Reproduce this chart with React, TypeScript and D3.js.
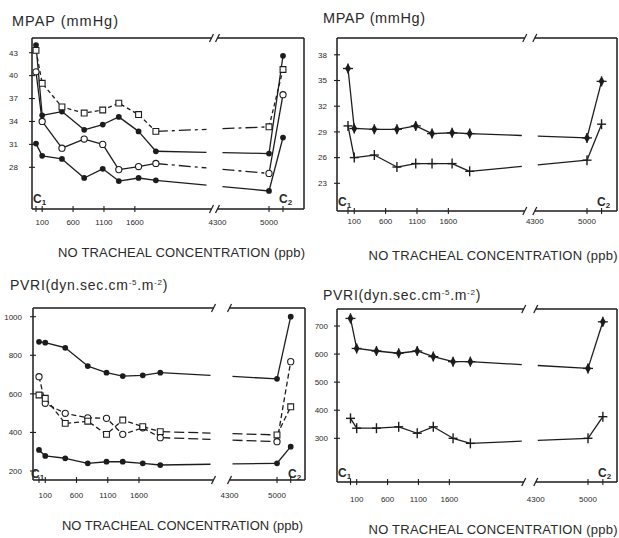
import React from 'react';
import * as d3 from 'd3';

// Concentration position (ppb) of each measurement; C1 / C2 control periods sit at 0 and 5200 on the axis
const doseX = [0, 100, 420, 780, 1080, 1340, 1660, 1940, 5000, 5200];
const xTickMarks = [0, 100, 600, 1100, 1600, 5000, 5200];
const xTickLabels = ['100', '600', '1100', '1600', '5000'];
const xTickLabelValues = [100, 600, 1100, 1600, 5000];
const breakLabel = '4300';

// Y ticks
const mpapTicksLeft = [28, 31, 34, 37, 40, 43];
const mpapTicksRight = [23, 26, 29, 32, 35, 38];
const pvriTicksLeft = [200, 400, 600, 800, 1000];
const pvriTicksRight = [300, 400, 500, 600, 700];

// Top-left: MPAP (mmHg)
const mpapFilledHigh = [44.0, 34.8, 35.3, 32.9, 33.6, 34.6, 32.7, 30.1, 29.8, 42.6];
const mpapSquares = [43.3, 39.0, 35.9, 35.1, 35.5, 36.4, 34.9, 32.7, 33.3, 40.8];
const mpapCircles = [40.5, 34.0, 30.5, 31.7, 31.0, 27.7, 28.1, 28.5, 27.2, 37.5];
const mpapFilledLow = [31.1, 29.5, 29.1, 26.6, 27.8, 26.2, 26.6, 26.3, 24.9, 31.9];

// Top-right: MPAP (mmHg)
const mpap2High = [36.4, 29.4, 29.3, 29.3, 29.7, 28.8, 28.9, 28.8, 28.3, 34.9];
const mpap2Low = [29.7, 26.0, 26.3, 24.9, 25.3, 25.3, 25.3, 24.4, 25.7, 29.9];

// Bottom-left: PVRI
const pvriFilledHigh = [870, 865, 839, 744, 710, 692, 696, 710, 678, 1000];
const pvriCircles = [689, 551, 499, 476, 473, 390, 424, 373, 352, 767];
const pvriSquares = [594, 577, 447, 458, 390, 464, 430, 404, 387, 533];
const pvriFilledLow = [309, 278, 266, 240, 248, 248, 240, 231, 240, 326];

// Bottom-right: PVRI
const pvri2High = [727, 620, 611, 603, 611, 591, 573, 573, 549, 715];
const pvri2Low = [371, 336, 336, 341, 318, 341, 300, 282, 300, 377];

const INK = '#1e1e1e';
const TEXT = '#2a2a2a';
const FONT = '"Liberation Sans", Arial, Helvetica, sans-serif';

type Series = { values: number[]; marker: string; dash?: string; tailDash?: string };

const panels = [
  {
    key: 'p1', kind: 'mpap', titleX: 12, titleY: 26, titleLen: 106,
    left: 32, right: 304, top: 38, bottom: 209,
    xr: [36, 209, 220, 269], yd: [28, 43], yr: [167.3, 52.7], yTicks: mpapTicksLeft,
    yLabelX: 18, xLabelY: 225, xTitleX: 181.5, xTitleY: 257, xTitleLen: 247,
    gap: 8, bh: 3, c1x: 33, c2x: 279, cY: 203,
    series: [
      { values: mpapFilledHigh, marker: 'dot' },
      { values: mpapSquares, marker: 'square', dash: '4,3', tailDash: '12,4,3,4' },
      { values: mpapCircles, marker: 'circle', tailDash: '12,4,3,4' },
      { values: mpapFilledLow, marker: 'dot' },
    ] as Series[],
  },
  {
    key: 'p2', kind: 'mpap', titleX: 323, titleY: 23, titleLen: 102,
    left: 337, right: 617, top: 38, bottom: 211,
    xr: [348, 523.6, 536, 587], yd: [23, 38], yr: [183.3, 54.8], yTicks: mpapTicksRight,
    yLabelX: 327, xLabelY: 224, xTitleX: 493, xTitleY: 260, xTitleLen: 249,
    gap: 8, bh: 5, c1x: 338, c2x: 597, cY: 206,
    series: [
      { values: mpap2High, marker: 'star' },
      { values: mpap2Low, marker: 'plus' },
    ] as Series[],
  },
  {
    key: 'p3', kind: 'pvri', titleX: 10, titleY: 290, titleLen: 158,
    left: 33, right: 305, top: 308, bottom: 480,
    xr: [39, 214, 229, 277], yd: [200, 1000], yr: [471, 316.7], yTicks: pvriTicksLeft,
    yLabelX: 22, xLabelY: 498, xTitleX: 182.5, xTitleY: 530, xTitleLen: 241,
    gap: 11, bh: 8, c1x: 31, c2x: 288, cY: 478,
    series: [
      { values: pvriFilledHigh, marker: 'dot' },
      { values: pvriCircles, marker: 'circle', dash: '5,3', tailDash: '10,4' },
      { values: pvriSquares, marker: 'square', dash: '5,3', tailDash: '10,4' },
      { values: pvriFilledLow, marker: 'dot' },
    ] as Series[],
  },
  {
    key: 'p4', kind: 'pvri', titleX: 323, titleY: 300, titleLen: 159,
    left: 337, right: 617, top: 309, bottom: 482,
    xr: [350.5, 523.5, 536, 588], yd: [300, 700], yr: [438.3, 326], yTicks: pvriTicksRight,
    yLabelX: 328, xLabelY: 502, xTitleX: 493, xTitleY: 534, xTitleLen: 249,
    gap: 8, bh: 6, c1x: 338, c2x: 598, cY: 477,
    series: [
      { values: pvri2High, marker: 'star' },
      { values: pvri2Low, marker: 'plus' },
    ] as Series[],
  },
];

const circleSym = d3.symbol().type(d3.symbolCircle);
const squareSym = d3.symbol().type(d3.symbolSquare).size(34);
const diamondSym = d3.symbol().type(d3.symbolDiamond).size(30);

function Marker({ kind, x, y }: { kind: string; x: number; y: number }) {
  const t = `translate(${x},${y})`;
  if (kind === 'dot') return <path transform={t} d={circleSym.size(26)() as string} fill={INK} />;
  if (kind === 'circle')
    return <path transform={t} d={circleSym.size(30)() as string} fill="#fff" stroke={INK} strokeWidth={1.1} />;
  if (kind === 'square')
    return <path transform={t} d={squareSym() as string} fill="#fff" stroke={INK} strokeWidth={1.1} />;
  if (kind === 'star')
    return (
      <g transform={t}>
        <path d={diamondSym() as string} fill={INK} />
        <line x1={-5} x2={5} y1={0} y2={0} stroke={INK} strokeWidth={1.3} />
        <line x1={0} x2={0} y1={-5} y2={5} stroke={INK} strokeWidth={1.3} />
      </g>
    );
  return (
    <g transform={t}>
      <line x1={-4.5} x2={4.5} y1={0} y2={0} stroke={INK} strokeWidth={1.4} />
      <line x1={0} x2={0} y1={-5} y2={5} stroke={INK} strokeWidth={1.4} />
    </g>
  );
}

function Panel({ p }: { p: (typeof panels)[number] }) {
  const x = d3.scaleLinear().domain([0, 2800, 4300, 5000]).range(p.xr);
  const y = d3.scaleLinear().domain(p.yd).range(p.yr);
  const center = (x(2800) + x(4300)) / 2;
  const gL = center - p.gap;
  const gR = center + p.gap;
  const line = d3.line<[number, number]>().x((d) => d[0]).y((d) => d[1]);
  const bL = center - p.bh;
  const bR = center + p.bh;

  const seriesEls = p.series.map((s, si) => {
    const pts: [number, number][] = doseX.map((dx, i) => [x(dx), y(s.values[i])]);
    const p7 = pts[7];
    const p8 = pts[8];
    const at = (xx: number) => p7[1] + ((p8[1] - p7[1]) * (xx - p7[0])) / (p8[0] - p7[0]);
    const head = pts.slice(0, 8);
    const seg1: [number, number][] = [p7, [gL, at(gL)]];
    const seg2: [number, number][] = [[gR, at(gR)], p8];
    const end = pts.slice(8);
    const common = { fill: 'none', stroke: INK, strokeWidth: 1.3, strokeLinejoin: 'round' as const };
    return (
      <g key={si}>
        <path d={line(head) as string} {...common} strokeDasharray={s.dash} />
        <path d={line(seg1) as string} {...common} strokeDasharray={s.tailDash} />
        <path d={line(seg2) as string} {...common} strokeDasharray={s.tailDash} />
        <path d={line(end) as string} {...common} strokeDasharray={s.dash} />
      </g>
    );
  });

  const markerEls = p.series.map((s, si) =>
    doseX.map((dx, i) => <Marker key={`${si}-${i}`} kind={s.marker} x={x(dx)} y={y(s.values[i])} />)
  );

  const frame = { stroke: INK, strokeWidth: 1.5, fill: 'none' };

  return (
    <g>
      <g filter="url(#soft)">
        {/* frame with axis break */}
        <line x1={p.left} x2={bL} y1={p.top} y2={p.top} {...frame} />
        <line x1={bR} x2={p.right} y1={p.top} y2={p.top} {...frame} />
        <line x1={p.left} x2={bL} y1={p.bottom} y2={p.bottom} {...frame} />
        <line x1={bR} x2={p.right} y1={p.bottom} y2={p.bottom} {...frame} />
        <line x1={p.left} x2={p.left} y1={p.top} y2={p.bottom} {...frame} />
        <line x1={p.right} x2={p.right} y1={p.top} y2={p.bottom} {...frame} />
        {[bL, bR].map((bx, i) =>
          [p.top, p.bottom].map((by, j) => (
            <line key={`${i}-${j}`} x1={bx - 2} x2={bx + 2} y1={by + 4} y2={by - 4} stroke={INK} strokeWidth={1.2} />
          ))
        )}
        {/* y ticks */}
        {p.yTicks.map((t) => (
          <line key={t} x1={p.left - 3} x2={p.left + 3} y1={y(t)} y2={y(t)} stroke={INK} strokeWidth={1.1} />
        ))}
        {/* x ticks */}
        {xTickMarks.map((t) => (
          <line key={t} x1={x(t)} x2={x(t)} y1={p.bottom - 3} y2={p.bottom + 3} stroke={INK} strokeWidth={1.1} />
        ))}
        {seriesEls}
        {markerEls}
      </g>
      {/* y tick labels */}
      {p.yTicks.map((t) => (
        <text key={t} x={p.yLabelX} y={y(t)} dy="0.35em" textAnchor="end" fontSize={8} fill={TEXT} fontFamily={FONT}>
          {t}
        </text>
      ))}
      {/* x tick labels */}
      {xTickLabelValues.map((v, i) => (
        <text key={v} x={x(v)} y={p.xLabelY} textAnchor="middle" fontSize={8} fill={TEXT} fontFamily={FONT}>
          {xTickLabels[i]}
        </text>
      ))}
      <text x={bR} y={p.xLabelY} textAnchor="middle" fontSize={8} fill={TEXT} fontFamily={FONT}>
        {breakLabel}
      </text>
      {/* control labels */}
      <text x={p.c1x} y={p.cY} fontSize={12} fill={TEXT} fontFamily={FONT} fontWeight="bold">
        C<tspan fontSize={8} dy={2}>1</tspan>
      </text>
      <text x={p.c2x} y={p.cY} fontSize={12} fill={TEXT} fontFamily={FONT} fontWeight="bold">
        C<tspan fontSize={8} dy={2}>2</tspan>
      </text>
      {/* titles */}
      {p.kind === 'mpap' ? (
        <text x={p.titleX} y={p.titleY} fontSize={14.5} fill={TEXT} fontFamily={FONT} textLength={p.titleLen} lengthAdjust="spacing">
          MPAP (mmHg)
        </text>
      ) : (
        <text x={p.titleX} y={p.titleY} fontSize={14} fill={TEXT} fontFamily={FONT} letterSpacing={0.7}>
          PVRI(dyn.sec.cm<tspan fontSize={8} dy={-5}>-5</tspan>
          <tspan dy={5}>.m</tspan>
          <tspan fontSize={8} dy={-5}>-2</tspan>
          <tspan dy={5}>)</tspan>
        </text>
      )}
      <text x={p.xTitleX} y={p.xTitleY} textAnchor="middle" fontSize={13} fill={TEXT} fontFamily={FONT} textLength={p.xTitleLen} lengthAdjust="spacing">
        NO TRACHEAL CONCENTRATION (ppb)
      </text>
    </g>
  );
}

export default function App() {
  return (
    <svg width={619} height={538} style={{ position: 'absolute', left: 0, top: 0, background: '#fff' }}>
      <defs>
        <filter id="soft" x="-5%" y="-5%" width="110%" height="110%">
          <feGaussianBlur stdDeviation={0.35} />
        </filter>
      </defs>
      <rect width={619} height={538} fill="#fff" />
      {panels.map((p) => (
        <Panel key={p.key} p={p} />
      ))}
    </svg>
  );
}
